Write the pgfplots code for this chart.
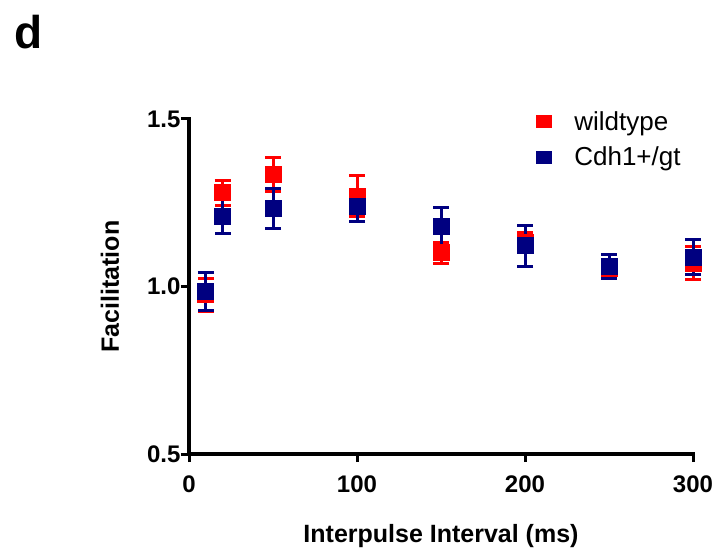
\documentclass[border=0pt]{standalone}
\usepackage{fontspec}
\setmainfont{Liberation Sans}
\usepackage{pgfplots}
\pgfplotsset{compat=1.18}

\definecolor{wtred}{RGB}{255,0,0}
\definecolor{gtblue}{RGB}{0,0,128}

\begin{document}
\begin{tikzpicture}
\useasboundingbox (0,0) rectangle (720pt,554pt);
\node[font=\bfseries\fontsize{46}{46}\selectfont] at (29pt,522pt) {d};
\begin{axis}[
  at={(189pt,100pt)}, anchor=south west,
  scale only axis, width=504pt, height=335pt,
  xmin=0, xmax=300, ymin=0.5, ymax=1.5,
  axis lines=left, axis line style={-, line width=3.5pt, line cap=rect},
  xtick={0,100,200,300}, xticklabels={0,100,200,300},
  ytick={0.5,1.0,1.5}, yticklabels={0.5,1.0,1.5},
  tick align=outside, major tick length=8pt,
  tick style={line width=3pt, black},
  ticklabel style={font=\bfseries\fontsize{24}{24}\selectfont},
  xticklabel style={yshift=-10pt},
  yticklabel style={xshift=3pt},
  xlabel={Interpulse Interval (ms)}, ylabel={Facilitation},
  label style={font=\bfseries\fontsize{25}{25}\selectfont},
  xlabel style={at={(axis description cs:0.5,-0.245)}, anchor=center},
  ylabel style={at={(axis description cs:-0.157,0.5)}, anchor=center},
  clip=false,
  legend style={draw=none, fill=none, at={(axis description cs:0.682,1.032)},
    anchor=north west, font=\fontsize{26}{26}\selectfont,
    row sep=13pt, nodes={anchor=west, inner sep=1pt},
    /tikz/every odd column/.append style={column sep=22pt}},
  legend cell align=left,
]
\addplot[only marks, wtred, mark=square*, mark size=8pt, mark options={line width=0pt},
  legend image code/.code={\fill[wtred] (-7.5pt,-6pt) rectangle (7.5pt,6pt);},
  error bars/.cd, y dir=both, y explicit,
  error bar style={line width=3pt},
  error mark options={rotate=90, mark size=8pt, line width=3pt}]
  coordinates {
    (10,0.975) +- (0,0.050)
    (20,1.280) +- (0,0.037)
    (50,1.334) +- (0,0.050)
    (100,1.270) +- (0,0.060)
    (150,1.100) +- (0,0.030)
    (200,1.130) +- (0,0.030)
    (250,1.055) +- (0,0.020)
    (300,1.070) +- (0,0.048)
  };
\addlegendentry{wildtype}
\addplot[only marks, gtblue, mark=square*, mark size=8pt, mark options={line width=0pt},
  legend image code/.code={\fill[gtblue] (-7.5pt,-6pt) rectangle (7.5pt,6pt);},
  error bars/.cd, y dir=both, y explicit,
  error bar style={line width=3pt},
  error mark options={rotate=90, mark size=8pt, line width=3pt}]
  coordinates {
    (10,0.985) +- (0,0.056)
    (20,1.210) +- (0,0.053)
    (50,1.233) +- (0,0.061)
    (100,1.240) +- (0,0.045)
    (150,1.178) +- (0,0.058)
    (200,1.121) +- (0,0.061)
    (250,1.060) +- (0,0.035)
    (300,1.087) +- (0,0.052)
  };
\addlegendentry{Cdh1+/gt}
\end{axis}
\end{tikzpicture}
\end{document}
